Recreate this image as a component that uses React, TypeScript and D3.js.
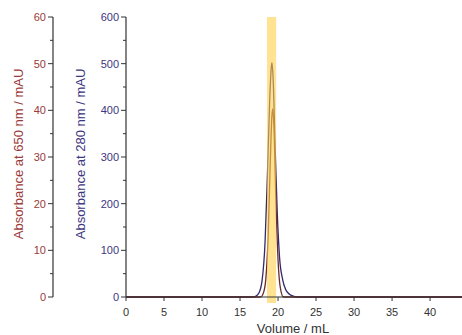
import React from "react";
import * as d3 from "d3";

const xTicks = [0, 5, 10, 15, 20, 25, 30, 35, 40];
const y280Ticks = [0, 100, 200, 300, 400, 500, 600];
const y650Ticks = [0, 10, 20, 30, 40, 50, 60];
const band = [18.55, 19.75];

const vol280 = [0, 16.6, 17.1, 17.5, 17.9, 18.3, 18.6, 18.9, 19.1, 19.2, 19.35, 19.6, 19.9, 20.2, 20.6, 21.0, 21.5, 22.0, 22.6, 44.2];
const abs280 = [0, 0, 2, 9, 35, 120, 260, 420, 490, 502, 470, 330, 180, 85, 38, 16, 6, 2, 0, 0];

const vol650 = [0, 17.7, 18.1, 18.4, 18.7, 19.0, 19.2, 19.3, 19.45, 19.7, 20.0, 20.3, 20.7, 44.2];
const abs650 = [0, 0, 1, 4, 13, 30, 39, 40.3, 37, 22, 8, 2, 0, 0];

const W = 462, H = 335;
const x = d3.scaleLinear().domain([0, 44.2]).range([126, 462]);
const yR = d3.scaleLinear().domain([0, 600]).range([297, 17]);
const yL = d3.scaleLinear().domain([0, 60]).range([297, 17]);

const c280 = "#3d3680";
const c650 = "#9a3a3a";
const axisC = "#333";
const font = "'Liberation Sans', Arial, sans-serif";

export default function App() {
  const line280 = d3.line<number>().x((_, i) => x(vol280[i])).y((d) => yR(d)).curve(d3.curveMonotoneX)(abs280) || "";
  const line650 = d3.line<number>().x((_, i) => x(vol650[i])).y((d) => yL(d)).curve(d3.curveMonotoneX)(abs650) || "";
  const leftX = 53;
  const innerX = 126;
  const minorL = d3.range(5, 60, 10);
  const minorR = d3.range(50, 600, 100);
  return (
    <svg width={W} height={H} style={{ position: "absolute", left: 0, top: 0 }} fontFamily={font}>
      <path d={line280} fill="none" stroke="#34286a" strokeWidth={1.3} />
      <path d={line650} fill="none" stroke="#6e2a2a" strokeWidth={1.3} />
      <rect x={x(band[0])} y={17} width={x(band[1]) - x(band[0])} height={303 - 17} fill="#ffcf4a" opacity={0.6} />

      {/* left 650 axis */}
      <line x1={leftX} x2={leftX} y1={17} y2={297} stroke={axisC} strokeWidth={1.2} />
      {y650Ticks.map((t) => (
        <g key={"l" + t}>
          <line x1={leftX - 5} x2={leftX} y1={yL(t)} y2={yL(t)} stroke={axisC} strokeWidth={1} />
          <text x={leftX - 7} y={yL(t)} dy="0.35em" textAnchor="end" fontSize={11} fill={c650}>{t}</text>
        </g>
      ))}
      {minorL.map((t) => (
        <line key={"lm" + t} x1={leftX - 3} x2={leftX} y1={yL(t)} y2={yL(t)} stroke={axisC} strokeWidth={1} />
      ))}
      <text transform={`translate(23,154) rotate(-90)`} textAnchor="middle" fontSize={13} fill={c650}>Absorbance at 650 nm / mAU</text>

      {/* inner 280 axis */}
      <line x1={innerX} x2={innerX} y1={17} y2={297} stroke={axisC} strokeWidth={1.2} />
      {y280Ticks.map((t) => (
        <g key={"r" + t}>
          <line x1={innerX - 5} x2={innerX} y1={yR(t)} y2={yR(t)} stroke={axisC} strokeWidth={1} />
          <text x={innerX - 7} y={yR(t)} dy="0.35em" textAnchor="end" fontSize={11} fill={c280}>{t}</text>
        </g>
      ))}
      {minorR.map((t) => (
        <line key={"rm" + t} x1={innerX - 3} x2={innerX} y1={yR(t)} y2={yR(t)} stroke={axisC} strokeWidth={1} />
      ))}
      <text transform={`translate(85,154) rotate(-90)`} textAnchor="middle" fontSize={13} fill={c280}>Absorbance at 280 nm / mAU</text>

      {/* x axis */}
      <line x1={innerX} x2={W} y1={297} y2={297} stroke={axisC} strokeWidth={1.2} />
      {xTicks.map((t) => (
        <g key={"x" + t}>
          <line x1={x(t)} x2={x(t)} y1={297} y2={301} stroke={axisC} strokeWidth={1} />
          <text x={x(t)} y={316} textAnchor="middle" fontSize={11} fill="#333">{t}</text>
        </g>
      ))}
      <text x={293} y={333} textAnchor="middle" fontSize={13} fill="#333">Volume / mL</text>
    </svg>
  );
}
